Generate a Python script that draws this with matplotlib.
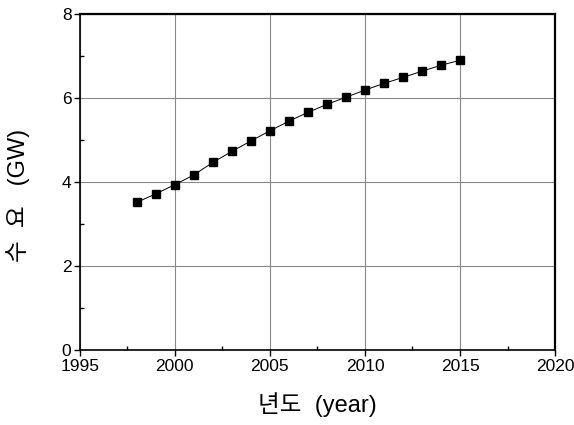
import matplotlib
matplotlib.use('Agg')
import matplotlib.pyplot as plt
from matplotlib.ticker import MultipleLocator

# demand forecast
years = [1998, 1999, 2000, 2001, 2002, 2003, 2004, 2005, 2006,
         2007, 2008, 2009, 2010, 2011, 2012, 2013, 2014, 2015]
demand = [3.52, 3.72, 3.94, 4.17, 4.47, 4.73, 4.98, 5.22, 5.45,
          5.66, 5.85, 6.02, 6.19, 6.35, 6.49, 6.64, 6.78, 6.90]

plt.rcParams['font.family'] = ['Liberation Sans', 'Noto Sans CJK KR', 'DejaVu Sans']

fig = plt.figure(figsize=(5.74, 4.25), dpi=100, facecolor='w')
ax = fig.add_axes([0.139, 0.176, 0.828, 0.791])

ax.plot(years, demand, color='black', linewidth=0.7, marker='s',
        markersize=5.5, markerfacecolor='black', markeredgecolor='black')

ax.set_xlim(1995, 2020)
ax.set_ylim(0, 8)
ax.xaxis.set_major_locator(MultipleLocator(5))
ax.xaxis.set_minor_locator(MultipleLocator(2.5))
ax.yaxis.set_major_locator(MultipleLocator(2))
ax.yaxis.set_minor_locator(MultipleLocator(1))
ax.tick_params(which='major', direction='out', length=4, width=1, labelsize=12.5, pad=2)
ax.tick_params(which='minor', direction='in', length=3, width=1)
ax.grid(which='major', color='#888888', linewidth=0.8)

for side in ['left', 'bottom']:
    ax.spines[side].set_linewidth(1.2)
for side in ['top', 'right']:
    ax.spines[side].set_linewidth(1.6)

ax.set_xlabel('년도  (year)', fontsize=17)
ax.set_ylabel('수  요   (GW)', fontsize=17)
ax.xaxis.set_label_coords(0.5, -0.125)
ax.yaxis.set_label_coords(-0.105, 0.46)

fig.savefig('out.png', dpi=100)
